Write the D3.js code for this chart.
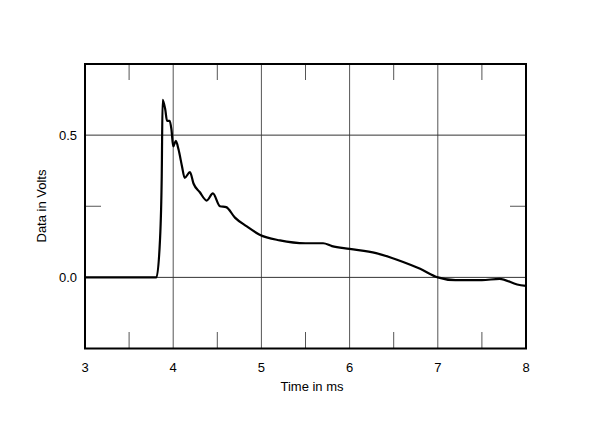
<!DOCTYPE html>
<html><head><meta charset="utf-8">
<script src="https://cdn.jsdelivr.net/npm/d3@7"></script>
<style>body{margin:0;background:#fff}svg{display:block;font-family:"Liberation Sans",Arial,sans-serif}</style>
</head><body>
<svg id="c" width="600" height="421"></svg>
<script>
var timeMs = [3.0,3.81,3.85,3.87,3.88,3.91,3.93,3.96,3.98,4.00,4.03,4.06,4.10,4.13,4.19,4.23,4.30,4.38,4.45,4.53,4.60,4.70,4.83,4.98,5.21,5.5,5.7,5.8,6.0,6.3,6.6,6.8,7.0,7.2,7.5,7.7,7.9,8.0];
var volts  = [0,0,0.13,0.355,0.624,0.59,0.55,0.55,0.52,0.46,0.48,0.45,0.39,0.35,0.37,0.33,0.30,0.27,0.295,0.25,0.247,0.21,0.18,0.15,0.13,0.12,0.12,0.11,0.10,0.085,0.055,0.03,0.0,-0.01,-0.01,-0.005,-0.025,-0.03];
var xTicks = [3,4,5,6,7,8];
var yTicks = [0,0.5];
var yTickLabels = ["0.0","0.5"];

var svg = d3.select("#c");
var x = d3.scaleLinear().domain([3,8]).range([85,526]);
var y = d3.scaleLinear().domain([-0.25,0.75]).range([348.5,64]);

var g = svg.append("g");
// grid
g.selectAll(".vg").data([4,5,6,7]).enter().append("line")
  .attr("x1",d=>x(d)).attr("x2",d=>x(d)).attr("y1",64).attr("y2",348.5)
  .attr("stroke","#555").attr("stroke-width",1);
g.selectAll(".hg").data(yTicks).enter().append("line")
  .attr("y1",d=>y(d)).attr("y2",d=>y(d)).attr("x1",85).attr("x2",526)
  .attr("stroke","#333").attr("stroke-width",1);
// minor ticks
[3.5,4.5,5.5,6.5,7.5].forEach(function(t){
  g.append("line").attr("x1",x(t)).attr("x2",x(t)).attr("y1",64).attr("y2",80).attr("stroke","#555");
  g.append("line").attr("x1",x(t)).attr("x2",x(t)).attr("y1",348.5).attr("y2",332).attr("stroke","#555");
});
[0.25].forEach(function(v){
  g.append("line").attr("y1",y(v)).attr("y2",y(v)).attr("x1",85).attr("x2",101).attr("stroke","#555");
  g.append("line").attr("y1",y(v)).attr("y2",y(v)).attr("x1",526).attr("x2",510).attr("stroke","#555");
});
// frame
g.append("rect").attr("x",85).attr("y",64).attr("width",441).attr("height",284.5)
  .attr("fill","none").attr("stroke","#000").attr("stroke-width",2);

// data
g.append("path").datum(d3.range(timeMs.length))
  .attr("fill","none").attr("stroke","#000").attr("stroke-width",2.2).attr("stroke-linejoin","round")
  .attr("d",d3.line().x(i=>x(timeMs[i])).y(i=>y(volts[i])).curve(d3.curveMonotoneX));

// labels
g.selectAll(".xl").data(xTicks).enter().append("text")
  .attr("x",d=>x(d)).attr("y",372).attr("text-anchor","middle").attr("font-size",13).text(d=>d);
g.selectAll(".yl").data(yTicks).enter().append("text")
  .attr("x",77).attr("y",d=>y(d)+4.5).attr("text-anchor","end").attr("font-size",13)
  .text((d,i)=>yTickLabels[i]);
g.append("text").attr("x",312).attr("y",391).attr("text-anchor","middle").attr("font-size",13).text("Time in ms");
g.append("text").attr("transform","translate(46,206) rotate(-90)").attr("text-anchor","middle").attr("font-size",13).text("Data in Volts");
</script>
</body></html>
